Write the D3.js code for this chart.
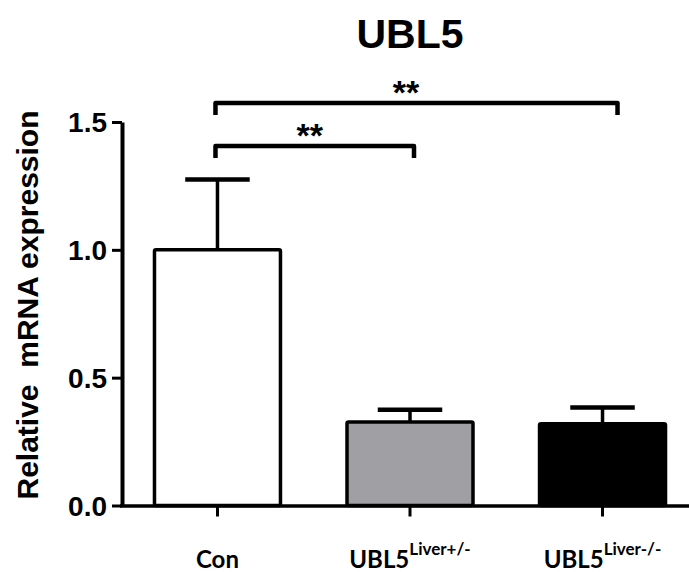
<!DOCTYPE html>
<html lang="en">
<head>
  <meta charset="UTF-8">
  <title>UBL5 relative mRNA expression</title>
  <style>
    html,
    body {
      margin: 0;
      padding: 0;
      background: #fff;
    }
    svg {
      display: block;
    }
  </style>
</head>
<body>
<div id="chart"></div>

<script src="https://d3js.org/d3.v7.min.js"></script>
<script>
  // data
  const groups = ['Con', 'UBL5+/-', 'UBL5-/-'];
  const labelMain = ['Con', 'UBL5', 'UBL5'];
  const labelSup = ['', 'Liver+/-', 'Liver-/-'];
  const means = [1.0, 0.327, 0.32];
  const errTops = [1.275, 0.375, 0.383];
  const fills = ['#ffffff', '#a0a0a4', '#000000'];
  const yTicks = [0, 0.5, 1.0, 1.5];

  // significance brackets
  const bracketFrom = ['Con', 'Con'];
  const bracketTo = ['UBL5+/-', 'UBL5-/-'];
  const bracketLevel = [1.406, 1.574];
  const bracketText = ['**', '**'];

  const width = 689;
  const height = 572;
  const arial = '"Liberation Sans", Arial, sans-serif';
  const calibri = 'Lato, "Open Sans", sans-serif';

  const svg = d3.select('#chart')
    .append('svg')
    .attr('width', width)
    .attr('height', height);

  const x = d3.scaleBand()
    .domain(groups)
    .range([137, 683])
    .paddingInner(0.33)
    .paddingOuter(0.083);

  const y = d3.scaleLinear()
    .domain([0, 1.5])
    .range([505.5, 122]);

  // title
  svg.append('text')
    .attr('x', 410)
    .attr('y', 48)
    .attr('text-anchor', 'middle')
    .style('font-family', arial)
    .style('font-weight', 'bold')
    .style('font-size', '41px')
    .text('UBL5');

  // y axis title
  svg.append('text')
    .attr('transform', 'translate(38,305) rotate(-90)')
    .attr('text-anchor', 'middle')
    .style('font-family', arial)
    .style('font-weight', 'bold')
    .style('font-size', '30px')
    .text('Relative\u00a0 mRNA expression');

  // bars
  const bar = svg.append('g')
    .selectAll('g')
    .data(groups)
    .join('g');

  bar.append('line')
    .attr('x1', d => x(d) + x.bandwidth() / 2)
    .attr('x2', d => x(d) + x.bandwidth() / 2)
    .attr('y1', (d, i) => y(means[i]))
    .attr('y2', (d, i) => y(errTops[i]))
    .attr('stroke', '#000')
    .attr('stroke-width', 3.5);

  bar.append('line')
    .attr('x1', d => x(d) + x.bandwidth() / 4)
    .attr('x2', d => x(d) + x.bandwidth() * 3 / 4)
    .attr('y1', (d, i) => y(errTops[i]))
    .attr('y2', (d, i) => y(errTops[i]))
    .attr('stroke', '#000')
    .attr('stroke-width', 4.5);

  bar.append('rect')
    .attr('x', d => x(d) + 1.5)
    .attr('y', (d, i) => y(means[i]))
    .attr('width', x.bandwidth() - 3)
    .attr('height', (d, i) => y(0) - y(means[i]))
    .attr('rx', 1.5)
    .attr('fill', (d, i) => fills[i])
    .attr('stroke', '#000')
    .attr('stroke-width', 3.5);

  // y axis
  const yAxis = svg.append('g')
    .attr('transform', 'translate(122,0)')
    .call(d3.axisLeft(y)
      .tickValues(yTicks)
      .tickFormat(d3.format('.1f'))
      .tickSizeInner(10)
      .tickSizeOuter(0)
      .tickPadding(5));

  yAxis.select('.domain')
    .attr('stroke-width', 4);
  yAxis.selectAll('.tick line')
    .attr('stroke-width', 3);
  yAxis.selectAll('.tick text')
    .style('font-family', arial)
    .style('font-weight', 'bold')
    .style('font-size', '28px')
    .attr('dy', '0.35em');

  // x axis
  const xAxis = svg.append('g')
    .attr('transform', `translate(0,${y(0)})`)
    .call(d3.axisBottom(x)
      .tickSizeInner(11)
      .tickSizeOuter(0)
      .tickFormat(''));

  xAxis.select('.domain')
    .attr('d', `M120,0.5H${width}`)
    .attr('stroke-width', 3.5);
  xAxis.selectAll('.tick line')
    .attr('stroke-width', 3);

  // x labels with superscripts
  const xl = svg.append('g')
    .selectAll('text')
    .data(groups)
    .join('text')
    .attr('x', d => x(d) + x.bandwidth() / 2)
    .attr('y', 568)
    .attr('text-anchor', 'middle')
    .style('font-family', calibri)
    .style('font-weight', 'bold')
    .style('font-size', '24px');

  xl.append('tspan')
    .text((d, i) => labelMain[i]);
  xl.append('tspan')
    .attr('dy', -13)
    .style('font-size', '17px')
    .text((d, i) => labelSup[i]);

  // significance brackets
  const legDrop = 12;
  const br = svg.append('g')
    .selectAll('g')
    .data(bracketText)
    .join('g');

  br.append('path')
    .attr('d', (d, i) => {
      const x0 = x(bracketFrom[i]) + x.bandwidth() / 2 - 2;
      const x1 = x(bracketTo[i]) + x.bandwidth() / 2 + (i === 1 ? 15 : 4);
      const yy = y(bracketLevel[i]);
      return `M${x0},${yy + legDrop}V${yy}H${x1}V${yy + legDrop}`;
    })
    .attr('fill', 'none')
    .attr('stroke', '#000')
    .attr('stroke-width', 4.5)
    .attr('stroke-linejoin', 'round');

  br.append('text')
    .attr('x', (d, i) => (x(bracketFrom[i]) + x(bracketTo[i]) + x.bandwidth()) / 2 - 4)
    .attr('y', (d, i) => y(bracketLevel[i]) + 1)
    .attr('text-anchor', 'middle')
    .style('font-family', arial)
    .style('font-weight', 'bold')
    .style('font-size', '34px')
    .text(d => d);
</script>
</body>
</html>
